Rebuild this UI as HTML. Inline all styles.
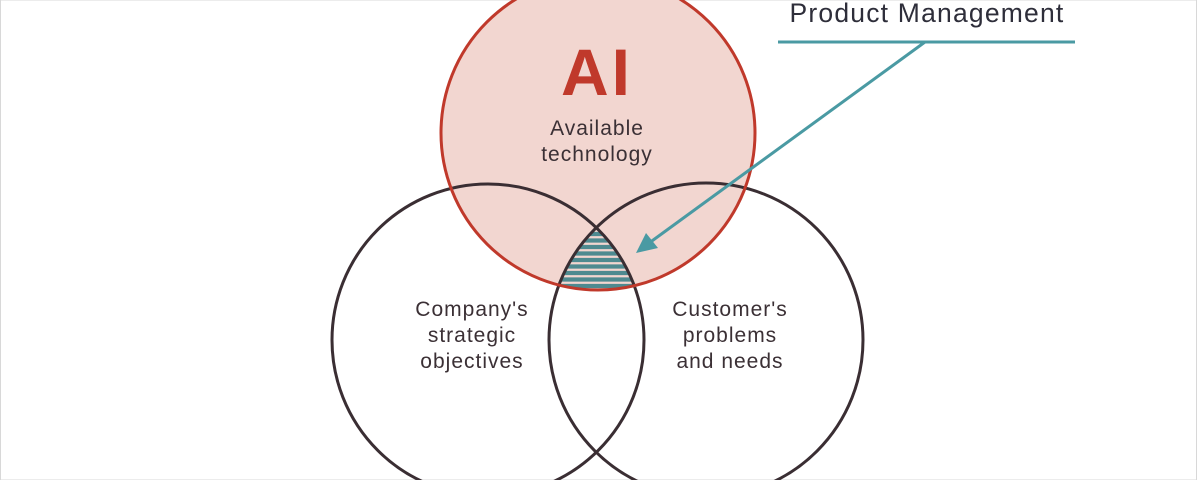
<!DOCTYPE html>
<html><head><style>
html,body{margin:0;padding:0;background:#fff;}
svg{display:block;}
</style></head><body>
<svg width="1200" height="480" viewBox="0 0 1200 480" xmlns="http://www.w3.org/2000/svg">
<defs>
<clipPath id="cL"><circle cx="488" cy="340" r="156"/></clipPath>
<clipPath id="cR" clip-path="url(#cL)"><circle cx="706" cy="340" r="157"/></clipPath>
<clipPath id="cT" clip-path="url(#cR)"><circle cx="598" cy="133" r="157"/></clipPath>
</defs>
<rect x="0.5" y="0" width="1196" height="480" fill="#fff" stroke="#d8d8d8" stroke-width="1"/>
<circle cx="598" cy="133" r="157" fill="#f2d6d0"/>
<g clip-path="url(#cT)">
<rect x="540" y="200" width="120" height="100" fill="#f2d6d0"/>
<g stroke="#4e8a90" stroke-width="4.2">
<line x1="540" y1="234" x2="660" y2="234"/>
<line x1="540" y1="240.5" x2="660" y2="240.5"/>
<line x1="540" y1="247" x2="660" y2="247"/>
<line x1="540" y1="253.5" x2="660" y2="253.5"/>
<line x1="540" y1="260" x2="660" y2="260"/>
<line x1="540" y1="266.5" x2="660" y2="266.5"/>
<line x1="540" y1="273" x2="660" y2="273"/>
<line x1="540" y1="279.5" x2="660" y2="279.5"/>
<line x1="540" y1="286" x2="660" y2="286"/>
</g>
</g>
<circle cx="488" cy="340" r="156" fill="none" stroke="#3a2e33" stroke-width="3"/>
<circle cx="706" cy="340" r="157" fill="none" stroke="#3a2e33" stroke-width="3"/>
<circle cx="598" cy="133" r="157" fill="none" stroke="#c0392b" stroke-width="3"/>
<line x1="778" y1="42" x2="1075" y2="42" stroke="#4a9aa3" stroke-width="3"/>
<line x1="925" y1="42" x2="645" y2="246" stroke="#4a9aa3" stroke-width="3"/>
<polygon points="636,253 646,233 658,248" fill="#4a9aa3"/>
<g font-family="Liberation Sans, sans-serif" fill="#3b3035" text-anchor="middle">
<text x="597" y="95" font-size="66" font-weight="bold" letter-spacing="3" fill="#c0392b">AI</text>
<text x="597" y="135" font-size="21" letter-spacing="1">Available</text>
<text x="597" y="161" font-size="21" letter-spacing="1">technology</text>
<text x="472" y="316" font-size="21" letter-spacing="1">Company's</text>
<text x="472" y="342" font-size="21" letter-spacing="1">strategic</text>
<text x="472" y="368" font-size="21" letter-spacing="1">objectives</text>
<text x="730" y="316" font-size="21" letter-spacing="1">Customer's</text>
<text x="730" y="342" font-size="21" letter-spacing="1">problems</text>
<text x="730" y="368" font-size="21" letter-spacing="1">and needs</text>
<text x="927" y="22" font-size="26.5" letter-spacing="1.2" fill="#2e2e3a">Product Management</text>
</g>
</svg>
</body></html>
